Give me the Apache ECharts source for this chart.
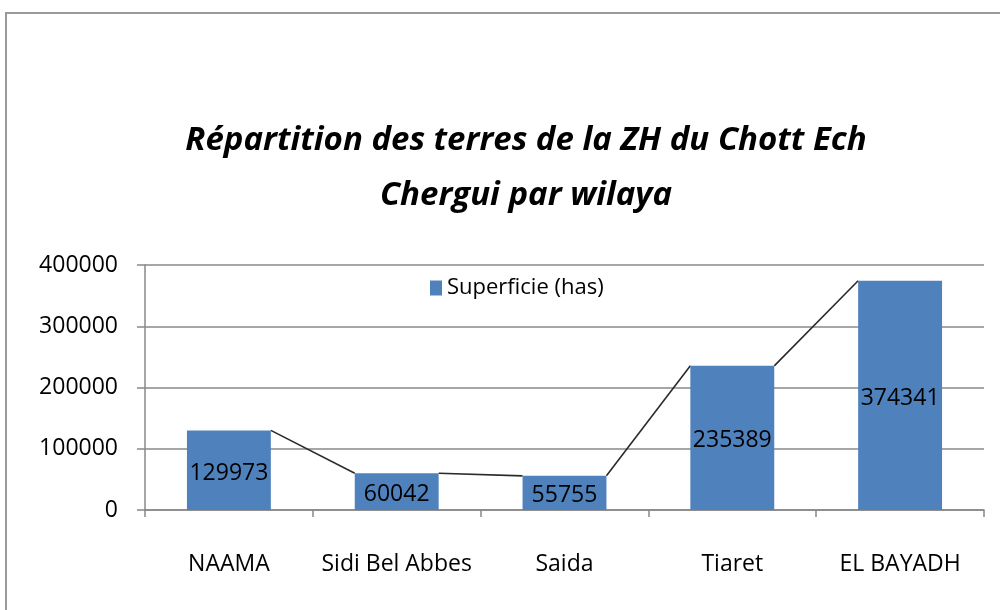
<!DOCTYPE html>
<html>
<head>
<meta charset="utf-8">
<script src="https://cdn.jsdelivr.net/npm/echarts@6/dist/echarts.min.js"></script>
<style>
  html, body { margin: 0; padding: 0; background: #fff; }
  #chart { width: 1000px; height: 610px; }
</style>
</head>
<body>
<div id="chart"></div>
<script>
const wilayas = ['NAAMA', 'Sidi Bel Abbes', 'Saida', 'Tiaret', 'EL BAYADH'];
const superficie = [129973, 60042, 55755, 235389, 374341];
const yTicks = [0, 100000, 200000, 300000, 400000];

const chart = echarts.init(document.getElementById('chart'));

// segments joining the top right corner of a bar to the top left corner of the next one
const linkData = superficie.slice(0, -1).map((v, i) => [i, v, superficie[i + 1]]);

chart.setOption({
  animation: false,
  textStyle: { fontFamily: 'Open Sans' },
  graphic: [{
    type: 'rect',
    shape: { x: 6, y: 13, width: 1010, height: 620 },
    style: { fill: 'none', stroke: '#9a9a9a', lineWidth: 2 }
  }],
  title: {
    text: 'Répartition des terres de la ZH du Chott Ech\nChergui par wilaya',
    left: 521,
    top: 108,
    textAlign: 'center',
    textStyle: {
      fontFamily: 'Open Sans',
      fontSize: 33,
      fontWeight: 'bold',
      fontStyle: 'italic',
      color: '#000',
      lineHeight: 55
    }
  },
  legend: {
    data: ['Superficie (has)'],
    left: 425,
    top: 272,
    icon: 'rect',
    itemWidth: 12,
    itemHeight: 15,
    itemGap: 8,
    textStyle: { fontFamily: 'Open Sans', fontSize: 22, color: '#000' }
  },
  grid: { left: 145, right: 16, top: 265, bottom: 100 },
  xAxis: {
    type: 'category',
    data: wilayas,
    axisLine: { lineStyle: { color: '#888', width: 1.5 } },
    axisTick: { show: true, length: 7, lineStyle: { color: '#888', width: 1.5 } },
    axisLabel: { interval: 0, margin: 43, fontFamily: 'Open Sans', fontSize: 23, color: '#000' }
  },
  yAxis: {
    type: 'value',
    min: yTicks[0],
    max: yTicks[yTicks.length - 1],
    interval: yTicks[1] - yTicks[0],
    axisLine: { show: true, lineStyle: { color: '#888', width: 1.5 } },
    axisTick: { show: true, length: 8, lineStyle: { color: '#888', width: 1.5 } },
    splitLine: { lineStyle: { color: '#888', width: 1.5 } },
    axisLabel: {
      margin: 27,
      fontFamily: 'Open Sans',
      fontSize: 23,
      color: '#000',
      formatter: v => String(v)
    }
  },
  series: [
    {
      name: 'Superficie (has)',
      type: 'bar',
      data: superficie,
      barWidth: '50%',
      itemStyle: { color: '#4F81BD' },
      label: {
        show: true,
        position: 'inside',
        offset: [0, 3],
        fontFamily: 'Open Sans',
        fontSize: 23,
        color: '#000'
      },
      z: 3
    },
    {
      name: 'liens',
      type: 'custom',
      data: linkData,
      encode: { x: 0, y: 1 },
      z: 2,
      renderItem: function (params, api) {
        const i = api.value(0);
        const p0 = api.coord([i, api.value(1)]);
        const p1 = api.coord([i + 1, api.value(2)]);
        const half = api.size([1, 0])[0] * 0.25;
        return {
          type: 'line',
          shape: { x1: p0[0] + half, y1: p0[1], x2: p1[0] - half, y2: p1[1] },
          style: { stroke: '#2a2a2a', lineWidth: 1.6 }
        };
      }
    }
  ]
});
</script>
</body>
</html>
